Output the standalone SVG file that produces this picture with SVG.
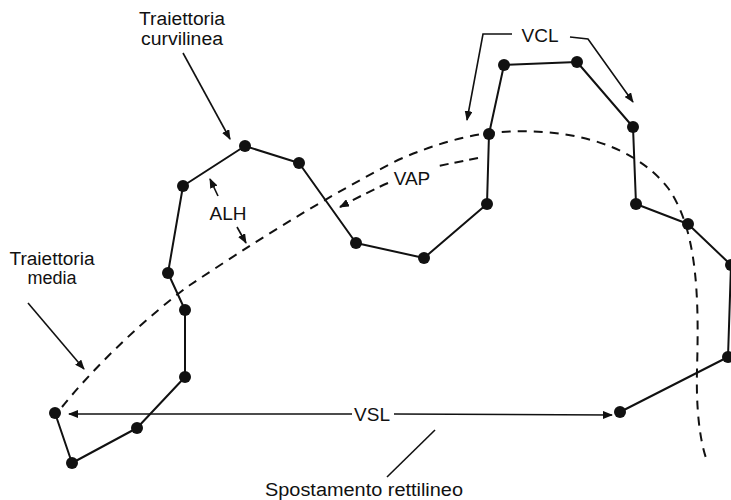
<svg xmlns="http://www.w3.org/2000/svg" width="731" height="500" viewBox="0 0 731 500">
<style>
.bg{fill:#fff}
.track{fill:none;stroke:#111;stroke-width:2;stroke-linejoin:round}
.dot{fill:#111}
.mean{fill:none;stroke:#111;stroke-width:2;stroke-dasharray:9 7}
.ptr{fill:none;stroke:#111;stroke-width:1.6}
.dptr{fill:none;stroke:#111;stroke-width:2;stroke-dasharray:9 6}
.lbl{font-family:"Liberation Sans",Arial,sans-serif;font-size:19px;fill:#111;text-anchor:middle}
.sm{font-family:"Liberation Sans",Arial,sans-serif;font-size:18px;fill:#111;text-anchor:middle}
</style>
<defs>
<marker id="ah" markerWidth="10" markerHeight="8" refX="9" refY="4" orient="auto" markerUnits="userSpaceOnUse">
<path d="M0,0 L10,4 L0,8 Z" fill="#111"/>
</marker>
</defs>
<rect class="bg" x="0" y="0" width="731" height="500"/>

<g id="mean-path">
<path class="mean" d="M62,407 C100,360 150,315 187,287 C250,245 320,200 398,160 C430,146 460,137 488,133 C560,126 630,140 668,188 C698,230 699,300 697,370 C696,410 700,440 706,458"/>
</g>

<g id="curvilinear-path">
<polyline class="track" points="55,413 72,463 137,428 185,377 185,310 168,273 183,186 245,146 299,163 356,243 424,258 487,204 489,134 504,65 577,62 633,127 636,204 688,224 731,265 728,357 620,412"/>
<g class="dot">
<circle cx="55" cy="413" r="6"/>
<circle cx="72" cy="463" r="6"/>
<circle cx="137" cy="428" r="6"/>
<circle cx="185" cy="377" r="6"/>
<circle cx="185" cy="310" r="6"/>
<circle cx="168" cy="273" r="6"/>
<circle cx="183" cy="186" r="6"/>
<circle cx="245" cy="146" r="6"/>
<circle cx="299" cy="163" r="6"/>
<circle cx="356" cy="243" r="6"/>
<circle cx="424" cy="258" r="6"/>
<circle cx="487" cy="204" r="6"/>
<circle cx="489" cy="134" r="6"/>
<circle cx="504" cy="65" r="6"/>
<circle cx="577" cy="62" r="6"/>
<circle cx="633" cy="127" r="6"/>
<circle cx="636" cy="204" r="6"/>
<circle cx="688" cy="224" r="6"/>
<circle cx="731" cy="265" r="6"/>
<circle cx="728" cy="357" r="6"/>
<circle cx="620" cy="412" r="6"/>
</g>
</g>

<g id="connectors">
<line class="ptr" x1="183" y1="53" x2="230" y2="139" marker-end="url(#ah)"/>
<line class="ptr" x1="28" y1="303" x2="84" y2="369" marker-end="url(#ah)"/>
<line class="ptr" x1="218" y1="196" x2="210" y2="179" marker-end="url(#ah)"/>
<line class="ptr" x1="237" y1="227" x2="246" y2="243" marker-end="url(#ah)"/>
<polyline class="ptr" points="512,34 483,34 467,120" marker-end="url(#ah)"/>
<polyline class="ptr" points="570,37 588,39 633,102" marker-end="url(#ah)"/>
<path class="dptr" d="M478,158 L438,166"/>
<path class="dptr" d="M388,183 C370,191 355,199 340,207" marker-end="url(#ah)"/>
<line class="ptr" x1="352" y1="414" x2="69" y2="414" marker-end="url(#ah)"/>
<line class="ptr" x1="394" y1="414" x2="612" y2="415" marker-end="url(#ah)"/>
<line class="ptr" x1="387" y1="477" x2="435" y2="430"/>
</g>

<g id="label-curvilinea">
<text class="sm" x="182" y="25" textLength="86" lengthAdjust="spacingAndGlyphs">Traiettoria</text>
<text class="sm" x="182" y="45" textLength="82" lengthAdjust="spacingAndGlyphs">curvilinea</text>
</g>
<g id="label-media">
<text class="sm" x="52" y="265" textLength="85" lengthAdjust="spacingAndGlyphs">Traiettoria</text>
<text class="sm" x="52" y="284">media</text>
</g>
<g id="label-alh"><text class="lbl" x="228" y="220">ALH</text></g>
<g id="label-vap"><text class="lbl" x="412" y="185">VAP</text></g>
<g id="label-vcl"><text class="lbl" x="540" y="42">VCL</text></g>
<g id="label-vsl"><text class="lbl" x="372" y="421">VSL</text></g>
<g id="label-spostamento">
<text class="sm" x="364" y="496" textLength="198" lengthAdjust="spacingAndGlyphs">Spostamento rettilineo</text>
</g>
</svg>
